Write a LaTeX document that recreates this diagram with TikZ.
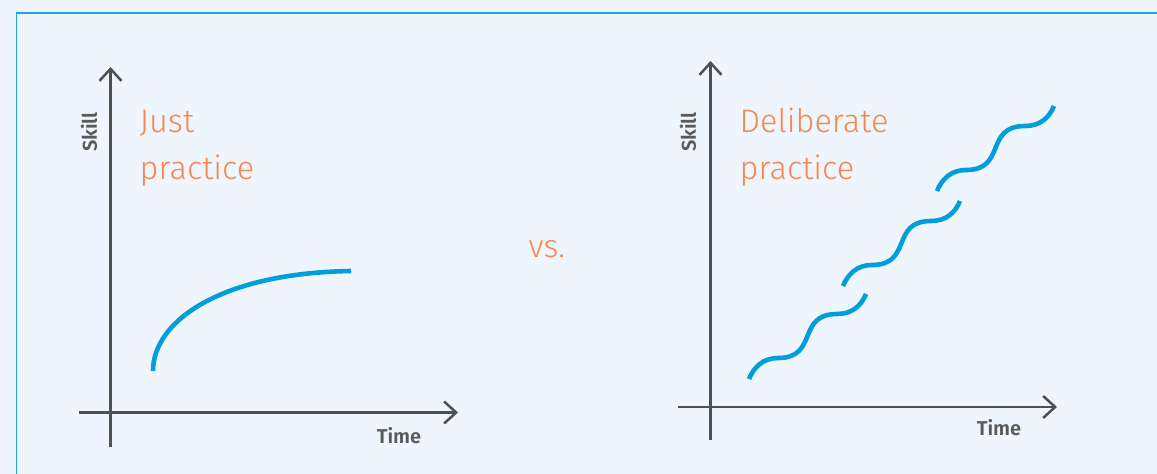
\documentclass[tikz,border=0pt]{standalone}
\usepackage{fontspec}
\setmainfont{Fira Sans}
\newfontfamily\firalight{Fira Sans Light}
\newfontfamily\firasemi{Fira Sans SemiBold}
\usetikzlibrary{arrows.meta}
\definecolor{bgc}{HTML}{EFF5FC}
\definecolor{framec}{HTML}{1AA7E0}
\definecolor{axisc}{HTML}{505050}
\definecolor{labc}{HTML}{5A5A5A}
\definecolor{orangec}{HTML}{F5874F}
\definecolor{bluec}{HTML}{009EDB}
\tikzset{
  axisline/.style={draw=axisc, line width=2.5pt},
  axisarrow/.style={axisline, -{Straight Barb[length=12pt, width=22pt, line width=2.5pt]}},
  curve/.style={draw=bluec, line width=4.6pt},
  title/.style={text=orangec, font=\firalight\fontsize{32.5}{48}\selectfont, inner sep=0pt, anchor=base west},
  axlab/.style={text=labc, font=\firasemi\fontsize{20}{24}\selectfont, inner sep=0pt}
}
\begin{document}
\begin{tikzpicture}[x=1pt,y=-1pt]
\useasboundingbox (0,0) rectangle (1157,474);
\fill[bgc] (0,0) rectangle (1157,474);
\begin{scope}
\clip (0,0) rectangle (1157,474);
\draw[framec, line width=1.4pt] (16.5,13) rectangle (1200,520);
\end{scope}

% left chart
\coordinate (l-ybot) at (110.5,447);
\coordinate (l-ytop) at (110.5,67);
\coordinate (l-xleft) at (79,412.5);
\coordinate (l-xright) at (458,412.5);
\draw[axisarrow] (l-ybot) -- (l-ytop);
\draw[axisarrow] (l-xleft) -- (l-xright);
\node[axlab, rotate=90] (l-skill) at (89,132) {Skill};
\node[axlab, anchor=base] (l-time) at (399,443) {Time};
\node[title] (l-t1) at (139.5,132) {Just};
\node[title] (l-t2) at (139.5,179) {practice};
\coordinate (l-c0) at (153,371);
\coordinate (l-c1) at (351,271);
\draw[curve] (l-c0) .. controls (153,321) and (221,273) .. (l-c1);

% vs
\node[title, font=\firalight\fontsize{32}{36}\selectfont] (vs) at (528.5,257) {vs.};

% right chart
\coordinate (r-ybot) at (710.5,440);
\coordinate (r-ytop) at (710.5,61);
\coordinate (r-xleft) at (678,407);
\coordinate (r-xright) at (1057,407);
\draw[axisarrow] (r-ybot) -- (r-ytop);
\draw[axisarrow] (r-xleft) -- (r-xright);
\node[axlab, rotate=90] (r-skill) at (688,132) {Skill};
\node[axlab, anchor=base] (r-time) at (999,435) {Time};
\node[title] (r-t1) at (739.5,132) {Deliberate};
\node[title] (r-t2) at (739.5,179) {practice};

\foreach \sx/\sy in {749/379, 843/286, 937/191}{
  \draw[curve] (\sx,\sy) .. controls +(5,-12) and +(-15,0) .. ++(29,-21)
     .. controls +(41,0) and +(-41,0) .. ++(59,-44)
     .. controls +(15,0) and +(-5,12) .. ++(29,-20);
}
\end{tikzpicture}
\end{document}
